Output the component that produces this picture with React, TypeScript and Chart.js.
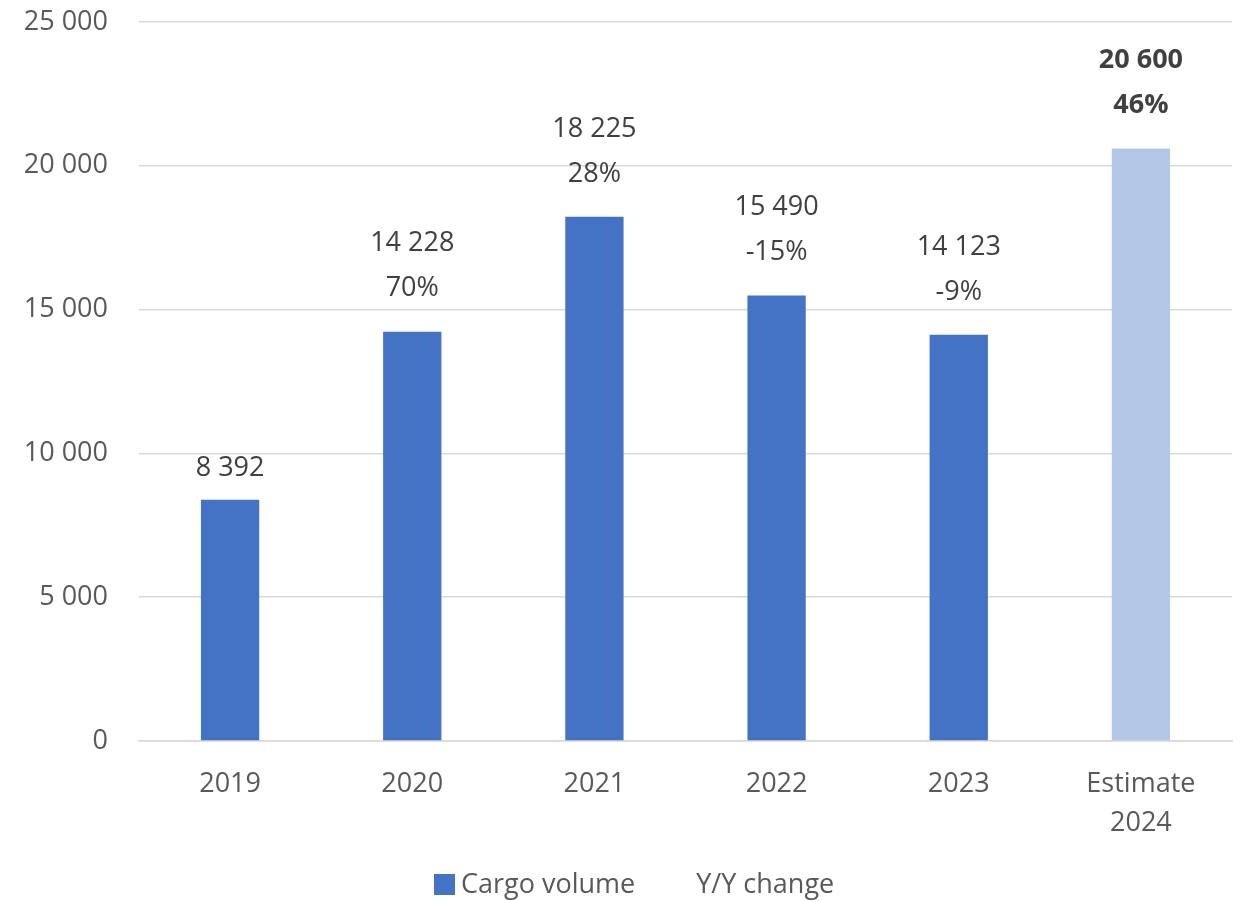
import React, { useEffect, useRef } from "react";
import { Chart, registerables } from "chart.js";

Chart.register(...registerables);

const categories: (string | string[])[] = ["2019", "2020", "2021", "2022", "2023", ["Estimate", "2024"]];
const cargoVolume = [8392, 14228, 18225, 15490, 14123, 20600];
const yoyChange: (number | null)[] = [null, 70, 28, -15, -9, 46];
const isEstimate = [false, false, false, false, false, true];
const seriesNames = ["Cargo volume", "Y/Y change"];
const yMin = 0;
const yMax = 25000;
const yStep = 5000;

const FONT = "'Open Sans', 'DejaVu Sans', sans-serif";
const BLUE = "#4472C4";
const LIGHT = "#B4C7E7";

const fmt = (v: number) => Math.round(v).toString().replace(/\B(?=(\d{3})+(?!\d))/g, " ");

const labelPlugin = {
  id: "barLabels",
  afterDatasetsDraw(chart: any) {
    const ctx = chart.ctx;
    const meta = chart.getDatasetMeta(0);
    ctx.save();
    ctx.textAlign = "center";
    ctx.textBaseline = "middle";
    ctx.fillStyle = "#404040";
    meta.data.forEach((bar: any, i: number) => {
      const bold = isEstimate[i] ? "bold " : "";
      ctx.font = `${bold}27px ${FONT}`;
      const pct = yoyChange[i];
      if (pct === null || pct === undefined) {
        ctx.fillText(fmt(cargoVolume[i]), bar.x, bar.y - 31);
      } else {
        ctx.fillText(fmt(cargoVolume[i]), bar.x, bar.y - 88);
        ctx.fillText(`${pct}%`, bar.x, bar.y - 43);
      }
    });
    ctx.restore();
  },
};

const legendPlugin = {
  id: "customLegend",
  afterDraw(chart: any) {
    const ctx = chart.ctx;
    ctx.save();
    ctx.font = `27px ${FONT}`;
    ctx.textBaseline = "middle";
    ctx.textAlign = "left";
    const y = 885;
    let x = 434;
    ctx.fillStyle = BLUE;
    ctx.fillRect(x, y - 11, 21, 21);
    x += 27;
    ctx.fillStyle = "#595959";
    ctx.fillText(seriesNames[0], x, y);
    x += ctx.measureText(seriesNames[0]).width + 61;
    ctx.fillText(seriesNames[1], x, y);
    ctx.restore();
  },
};

export default function App() {
  const ref = useRef<HTMLCanvasElement>(null);
  useEffect(() => {
    if (!ref.current) return;
    const chart = new Chart(ref.current, {
      type: "bar",
      data: {
        labels: categories,
        datasets: [
          {
            type: "bar",
            label: seriesNames[0],
            data: cargoVolume,
            backgroundColor: cargoVolume.map((_, i) => (isEstimate[i] ? LIGHT : BLUE)),
            borderWidth: 0,
            barPercentage: 0.64,
            categoryPercentage: 0.5,
            yAxisID: "y",
          } as any,
          {
            type: "line",
            label: seriesNames[1],
            data: yoyChange,
            showLine: false,
            pointRadius: 0,
            backgroundColor: "rgba(0,0,0,0)",
            borderColor: "rgba(0,0,0,0)",
            borderWidth: 0,
            yAxisID: "y1",
          } as any,
        ],
      },
      options: {
        animation: false,
        responsive: false,
        maintainAspectRatio: false,
        layout: { padding: { left: 0, right: 13, top: 22, bottom: 55 } },
        plugins: {
          legend: { display: false },
          tooltip: { enabled: false },
        },
        scales: {
          x: {
            grid: { display: false, drawTicks: false },
            border: { display: true, color: "#D9D9D9", width: 1.5 },
            ticks: {
              color: "#595959",
              font: { family: FONT, size: 27, lineHeight: 1.45 },
              padding: 24,
              maxRotation: 0,
            },
            afterFit: (s: any) => {
              s.height = 105;
            },
          },
          y: {
            min: yMin,
            max: yMax,
            ticks: {
              stepSize: yStep,
              color: "#595959",
              font: { family: FONT, size: 27 },
              padding: 0,
              callback: (v: any) => fmt(Number(v)),
            },
            grid: {
              color: "#D9D9D9",
              lineWidth: 1.5,
              drawTicks: true,
              tickLength: 31,
              tickColor: "rgba(0,0,0,0)",
            },
            border: { display: false },
            afterFit: (s: any) => {
              s.width = 139;
            },
          },
          y1: { display: false, min: -100, max: 100 },
        },
      },
      plugins: [labelPlugin, legendPlugin],
    });
    return () => chart.destroy();
  }, []);
  return (
    <div style={{ position: "absolute", left: 0, top: 0, width: 1245, height: 901, background: "#fff" }}>
      <canvas ref={ref} width={1245} height={901} style={{ display: "block" }} />
    </div>
  );
}
